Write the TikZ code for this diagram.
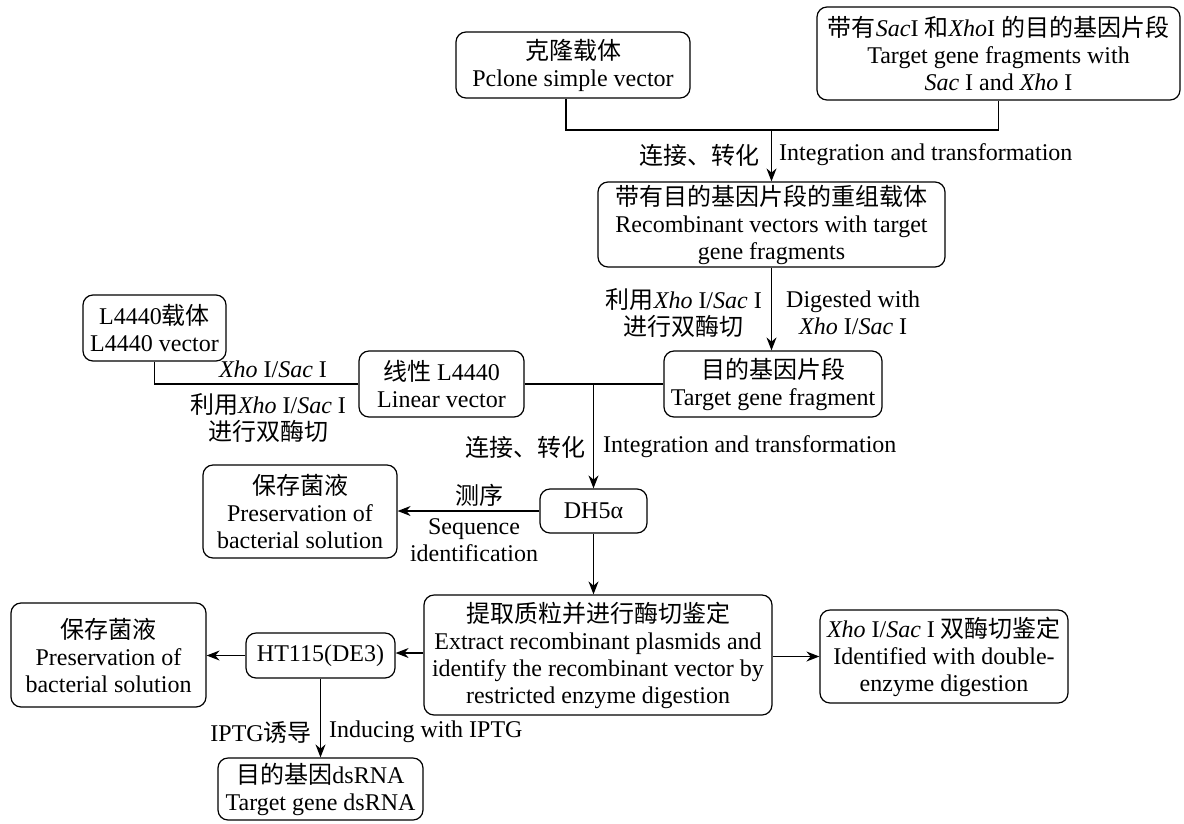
\documentclass[tikz,border=0pt]{standalone}
\usepackage{fontspec}
\setmainfont{Liberation Serif}
\newfontfamily\cjk{Noto Sans CJK SC}
\usetikzlibrary{arrows.meta}
\begin{document}
\begin{tikzpicture}[x=1pt,y=-1pt,
  every node/.style={font=\fontsize{24}{27}\selectfont, inner sep=0pt},
  box/.style={draw, rounded corners=10pt, align=center, line width=1.2pt},
  lbl/.style={align=center},
  conn/.style={line width=1.2pt},
  arr/.style={conn, -{Stealth[length=13pt,width=10pt]}}]
\useasboundingbox (0,0) rectangle (1184,823);

% boxes
\node[box, minimum width=234pt, minimum height=66pt] (clone) at (573,65)
  {{\cjk 克隆载体}\\Pclone simple vector};
\node[box, minimum width=363pt, minimum height=93pt] (tg) at (998.5,53.5)
  {{\cjk 带有}\textit{Sac}I {\cjk 和}\textit{Xho}I {\cjk 的目的基因片段}\\Target gene fragments with\\\textit{Sac} I and \textit{Xho} I};
\node[box, minimum width=347pt, minimum height=85pt] (recomb) at (771.5,224.5)
  {{\cjk 带有目的基因片段的重组载体}\\Recombinant vectors with target\\gene fragments};
\node[box, minimum width=143pt, minimum height=66pt] (l4440) at (154.5,328)
  {L4440{\cjk 载体}\\L4440 vector};
\node[box, minimum width=165pt, minimum height=66pt] (linear) at (441.5,384)
  {{\cjk 线性} L4440\\Linear vector};
\node[box, minimum width=218pt, minimum height=66pt] (frag) at (773,384)
  {{\cjk 目的基因片段}\\Target gene fragment};
\node[box, minimum width=194pt, minimum height=93pt] (pres1) at (300,511.5)
  {{\cjk 保存菌液}\\Preservation of\\bacterial solution};
\node[box, minimum width=107pt, minimum height=44pt] (dh5) at (593.5,511)
  {DH5α};
\node[box, minimum width=348pt, minimum height=120pt] (extract) at (598,655)
  {{\cjk 提取质粒并进行酶切鉴定}\\Extract recombinant plasmids and\\identify the recombinant vector by\\restricted enzyme digestion};
\node[box, minimum width=248pt, minimum height=93pt] (xho) at (944,656.5)
  {\textit{Xho} I/\textit{Sac} I {\cjk 双酶切鉴定}\\Identified with double-\\enzyme digestion};
\node[box, minimum width=195pt, minimum height=104pt] (pres2) at (108.5,655)
  {{\cjk 保存菌液}\\Preservation of\\bacterial solution};
\node[box, minimum width=149pt, minimum height=45pt] (ht) at (320.5,655.5)
  {HT115(DE3)};
\node[box, minimum width=205pt, minimum height=62pt] (dsrna) at (320.5,789)
  {{\cjk 目的基因}dsRNA\\Target gene dsRNA};

% junctions
\coordinate (j1) at (771.5,130);
\coordinate (j2) at (593.5,384);

% connectors
\draw[conn] ([xshift=-7pt]clone.south) |- (j1) -| (tg.south);
\draw[arr] (j1) -- (recomb.north);
\draw[arr] (recomb.south) -- (recomb.south |- frag.north);
\draw[conn] (l4440.south) |- (linear.west);
\draw[conn] (linear.east) -- (frag.west);
\draw[arr] (j2) -- (dh5.north);
\draw[arr] (dh5.west) -- (pres1.east |- dh5.west);
\draw[arr] (dh5.south) -- (dh5.south |- extract.north);
\draw[arr] (extract.east |- xho.west) -- (xho.west);
\draw[arr] ([yshift=2pt]extract.west) -- ([yshift=2pt]extract.west -| ht.east);
\draw[arr] (ht.west) -- (ht.west -| pres2.east);
\draw[arr] (ht.south) -- (dsrna.north);

% labels
\node[lbl, anchor=east] (l1a) at (760,155) {\cjk 连接、转化};
\node[lbl, anchor=west] (l1b) at (779,155) {Integration and transformation};
\node[lbl, anchor=east] (l2a) at (762,312.5) {{\cjk 利用}\textit{Xho} I/\textit{Sac} I\\{\cjk 进行双酶切}};
\node[lbl, anchor=west] (l2b) at (786,312.5) {Digested with\\\textit{Xho} I/\textit{Sac} I};
\node[lbl] (l3a) at (273,369) {\textit{Xho} I/\textit{Sac} I};
\node[lbl] (l3b) at (268,417.5) {{\cjk 利用}\textit{Xho} I/\textit{Sac} I\\{\cjk 进行双酶切}};
\node[lbl, anchor=east] (l4a) at (586,447) {\cjk 连接、转化};
\node[lbl, anchor=west] (l4b) at (603,447) {Integration and transformation};
\node[lbl] (l5a) at (479,495) {\cjk 测序};
\node[lbl] (l5b) at (474,540.5) {Sequence\\identification};
\node[lbl, anchor=east] (l6a) at (312,732) {IPTG{\cjk 诱导}};
\node[lbl, anchor=west] (l6b) at (329,732) {Inducing with IPTG};
\end{tikzpicture}
\end{document}
